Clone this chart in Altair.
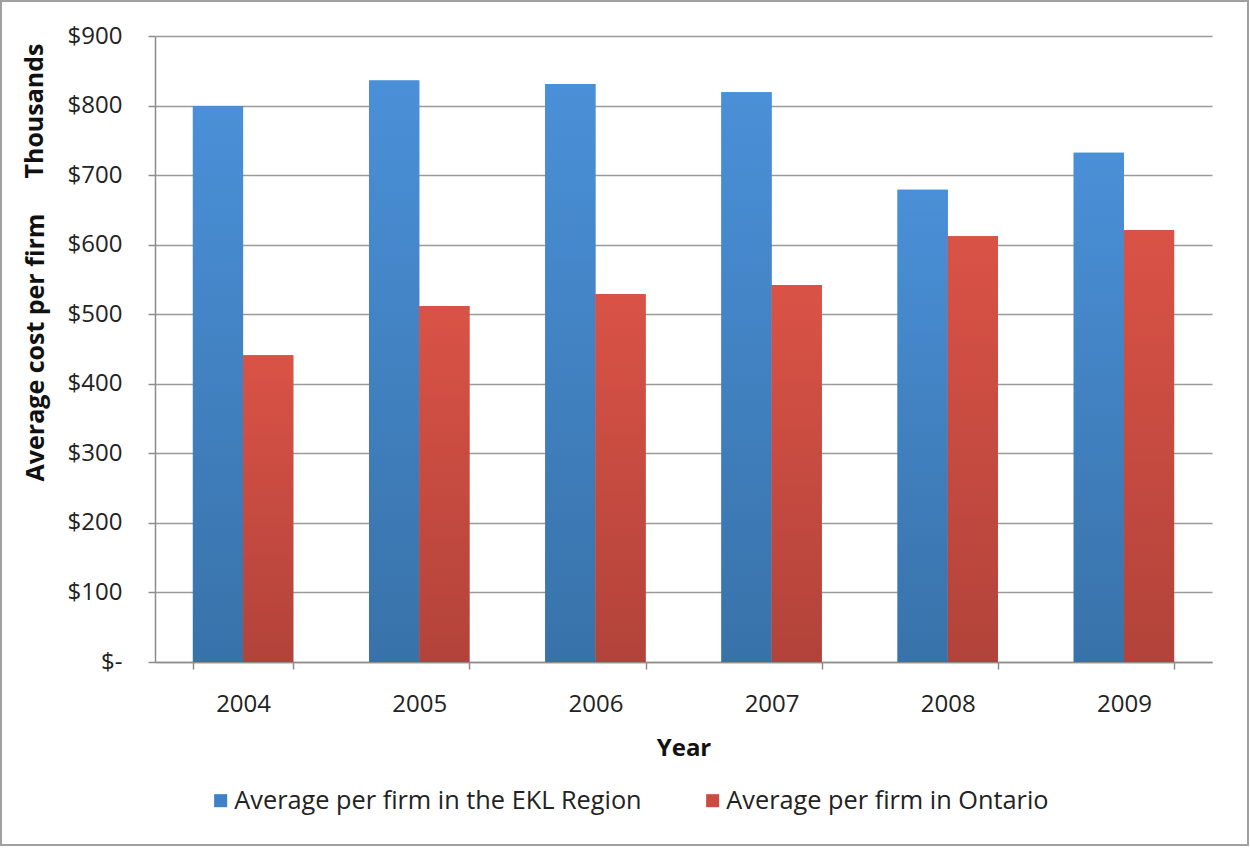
import altair as alt
import pandas as pd

# Average cost per firm, in thousands of dollars
years = ["2004", "2005", "2006", "2007", "2008", "2009"]
ekl_values = [799, 836, 831, 819, 679, 732]
ontario_values = [441, 512, 529, 542, 612, 621]

EKL = "Average per firm in the EKL Region"
ONT = "Average per firm in Ontario"
series_order = [EKL, ONT]

rows = []
for y, a, b in zip(years, ekl_values, ontario_values):
    rows.append({"Year": y, "Series": EKL, "Cost": a})
    rows.append({"Year": y, "Series": ONT, "Cost": b})
df = pd.DataFrame(rows)

FONT = "Open Sans"
W, H = 1057, 626

x_enc = alt.X(
    "Year:N",
    sort=years,
    scale=alt.Scale(paddingInner=0.43, paddingOuter=0.215),
    axis=alt.Axis(
        title="Year",
        labelAngle=0,
        labelFontSize=24,
        labelColor="#222222",
        labelPadding=23,
        tickBand="extent",
        tickSize=7,
        tickColor="#8c8c8c",
        tickWidth=1.5,
        domainColor="#8c8c8c",
        domainWidth=1.5,
        titleFontSize=24,
        titleFontWeight="bold",
        titleColor="#111111",
        titleX=W / 2,
        titleY=86,
        titleBaseline="middle",
        titleAlign="center",
    ),
)
xo_enc = alt.XOffset(
    "Series:N",
    scale=alt.Scale(domain=series_order, paddingInner=0, paddingOuter=0),
)
y_enc = alt.Y(
    "Cost:Q",
    scale=alt.Scale(domain=[0, 900], nice=False),
    axis=alt.Axis(
        title="Average cost per firm",
        values=list(range(0, 901, 100)),
        labelExpr="datum.value == 0 ? '$-\u00a0\u00a0' : '$' + datum.value",
        labelFontSize=24,
        labelColor="#222222",
        labelPadding=26,
        tickSize=7,
        tickColor="#8c8c8c",
        tickWidth=1.5,
        domainColor="#8c8c8c",
        domainWidth=1.5,
        gridColor="#9a9a9a",
        gridWidth=1.5,
        titleFontSize=25,
        titleFontWeight="bold",
        titleColor="#111111",
        titleX=-120,
        titleY=H / 2 - 2,
        titleBaseline="middle",
        titleAlign="center",
    ),
)

# Solid bars carry the legend; gradient bars are drawn over them
base_bars = alt.Chart(df).mark_bar().encode(
    x=x_enc,
    xOffset=xo_enc,
    y=y_enc,
    color=alt.Color(
        "Series:N",
        scale=alt.Scale(domain=series_order, range=["#3f80c6", "#cc4b40"]),
        legend=alt.Legend(
            title=None,
            orient="none",
            direction="horizontal",
            legendX=53,
            legendY=752,
            symbolType="square",
            symbolSize=170,
            symbolStrokeWidth=0,
            labelFontSize=25.3,
            labelColor="#222222",
            labelLimit=600,
            labelOffset=1,
            columnPadding=58,
        ),
    ),
)


def gradient(top, bottom):
    return alt.Gradient(
        gradient="linear",
        stops=[
            alt.GradientStop(color=top, offset=0),
            alt.GradientStop(color=bottom, offset=1),
        ],
        x1=0, x2=0, y1=0, y2=1,
    )


ekl_bars = alt.Chart(df).transform_filter(
    alt.datum.Series == EKL
).mark_bar(color=gradient("#4a90d8", "#3872a9")).encode(
    x=alt.X("Year:N", sort=years), xOffset="Series:N", y="Cost:Q"
)
ont_bars = alt.Chart(df).transform_filter(
    alt.datum.Series == ONT
).mark_bar(color=gradient("#da5246", "#b2433a")).encode(
    x=alt.X("Year:N", sort=years), xOffset="Series:N", y="Cost:Q"
)

one = pd.DataFrame({"k": [0]})

units = alt.Chart(one).mark_text(
    text="Thousands",
    angle=270,
    font=FONT,
    fontSize=25,
    fontWeight="bold",
    color="#111111",
    align="center",
    baseline="middle",
).encode(x=alt.value(-120), y=alt.value(75))

frame = alt.Chart(one).mark_rect(
    fill="transparent", stroke="#a0a0a0", strokeWidth=2
).encode(
    x=alt.value(-154), x2=alt.value(1093), y=alt.value(-35), y2=alt.value(809)
)

chart = (
    alt.layer(base_bars, ekl_bars, ont_bars, units, frame)
    .properties(
        width=W,
        height=H,
        autosize=alt.AutoSizeParams(type="none"),
        padding={"left": 155, "top": 36, "right": 38, "bottom": 186},
        background="white",
    )
    .configure(font=FONT)
    .configure_view(stroke=None)
)

chart.save("out.html", embed_options={"renderer": "svg", "actions": False})
